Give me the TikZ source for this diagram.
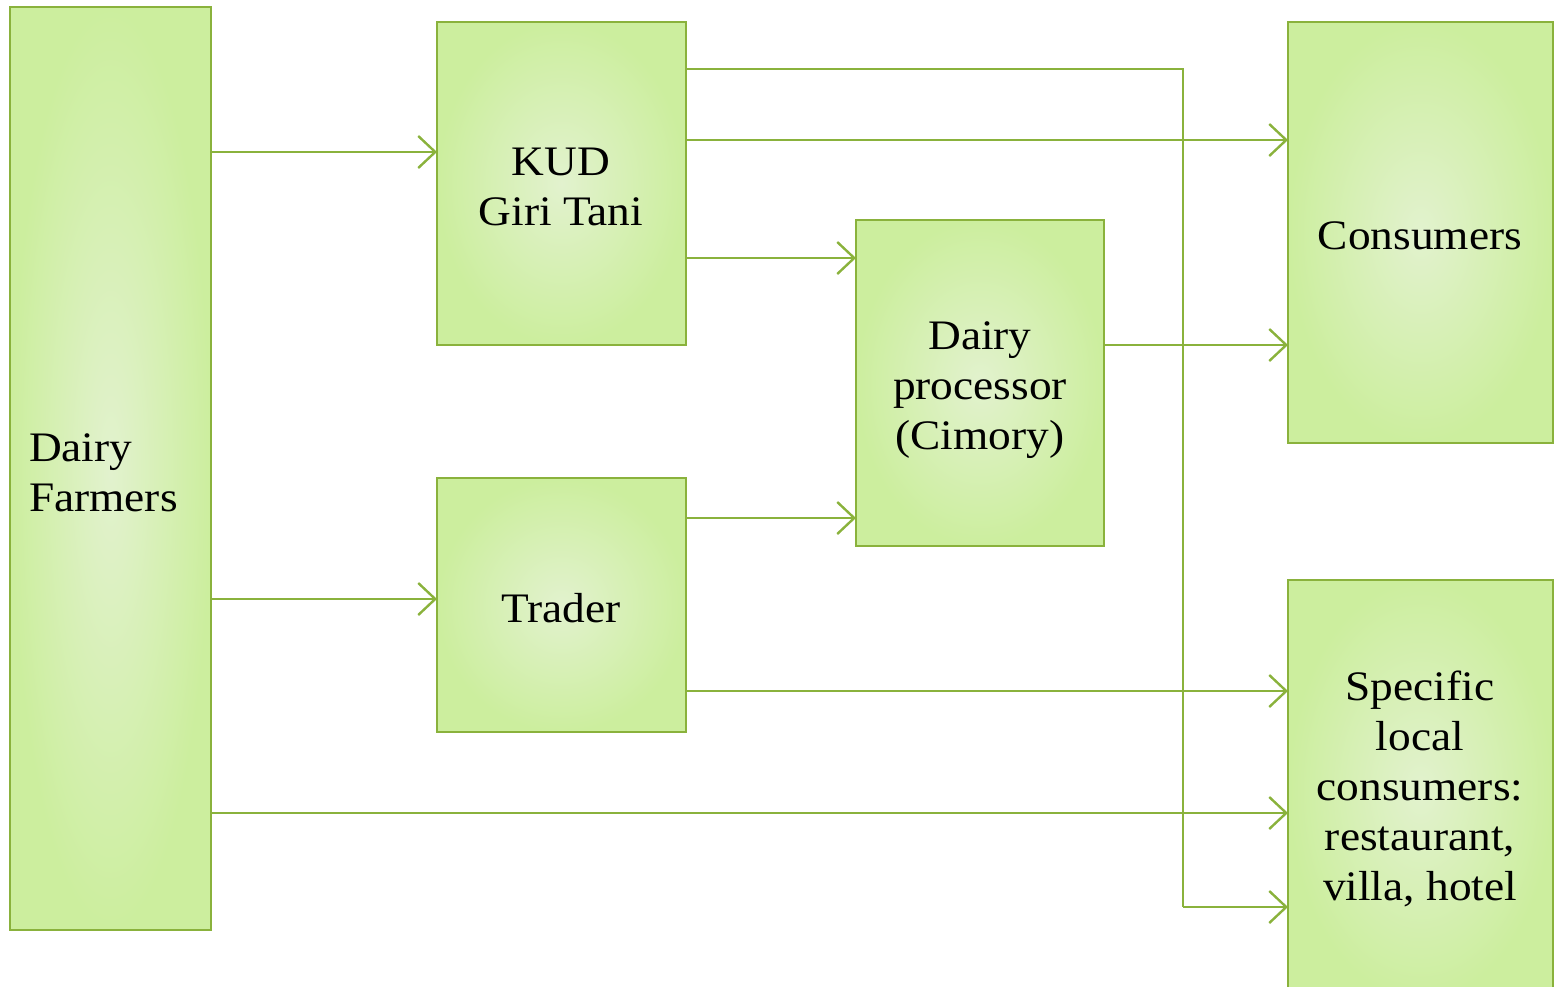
\documentclass[tikz,border=0pt]{standalone}
\usepackage{fontspec}
\setmainfont{Liberation Serif}[FakeStretch=1.08]
\usetikzlibrary{arrows.meta}
\definecolor{edge}{RGB}{138,178,60}
\definecolor{fillout}{RGB}{204,238,158}
\definecolor{fillin}{RGB}{226,242,206}
\begin{document}
\begin{tikzpicture}[x=0.5pt,y=-0.5pt,
  box/.style={draw=edge,line width=1.2pt,inner color=fillin,outer color=fillout},
  lbl/.style={font=\fontsize{21}{25}\selectfont,align=center},
  conn/.style={draw=edge,line width=1.2pt},
  arr/.style={conn,-{Straight Barb[length=8.5pt,width=16pt,line width=1.2pt]}}]
\useasboundingbox (0,0) rectangle (1558,986);
\begin{scope}
\clip (0,0) rectangle (1558,986);
\path[box] (10,7) rectangle (211,930);
\path[box] (437,22) rectangle (686,345);
\path[box] (437,478) rectangle (686,732);
\path[box] (856,220) rectangle (1104,546);
\path[box] (1288,22) rectangle (1553,443);
\path[box] (1288,580) rectangle (1553,1000);
\end{scope}
\coordinate (farmers) at (211,0);
\coordinate (kudL) at (437,0);
\coordinate (kudR) at (686,0);
\coordinate (trL) at (437,0);
\coordinate (trR) at (686,0);
\coordinate (prL) at (856,0);
\coordinate (prR) at (1104,0);
\coordinate (con) at (1288,0);
\coordinate (spec) at (1288,0);
\coordinate (bend) at (1183,0);
\node[lbl,align=left,anchor=west] (nf) at (22,473) {Dairy\\Farmers};
\node[lbl] (nk) at (561,187) {KUD\\Giri Tani};
\node[lbl] (nt) at (561,608) {Trader};
\node[lbl] (np) at (980,390) {Dairy\\processor\\(Cimory)};
\node[lbl] (nc) at (1420,236) {Consumers};
\node[lbl] (ns) at (1420,789) {Specific\\local\\consumers:\\restaurant,\\villa, hotel};
\draw[arr] (farmers |- 0,152) -- (kudL |- 0,152);
\draw[arr] (farmers |- 0,599) -- (trL |- 0,599);
\draw[arr] (farmers |- 0,813) -- (spec |- 0,813);
\draw[arr] (kudR |- 0,140) -- (con |- 0,140);
\draw[arr] (kudR |- 0,258) -- (prL |- 0,258);
\draw[conn] (kudR |- 0,69) -- (bend |- 0,69) -- (bend |- 0,907);
\draw[arr] (bend |- 0,907) -- (spec |- 0,907);
\draw[arr] (prR |- 0,345) -- (con |- 0,345);
\draw[arr] (trR |- 0,518) -- (prL |- 0,518);
\draw[arr] (trR |- 0,691) -- (spec |- 0,691);
\end{tikzpicture}
\end{document}
